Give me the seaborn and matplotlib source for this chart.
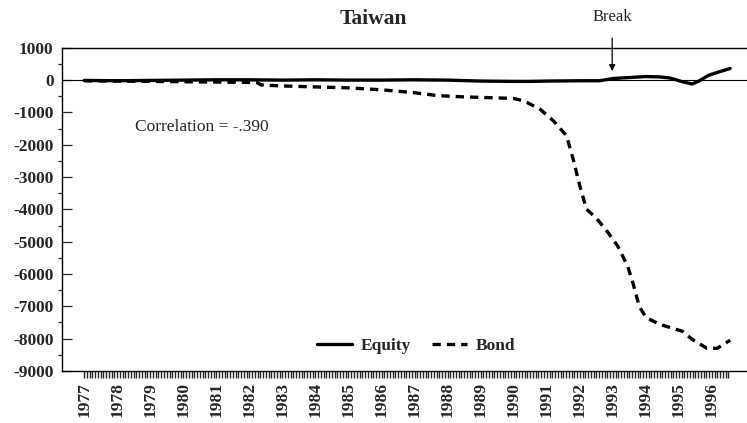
import numpy as np
import pandas as pd
import matplotlib
matplotlib.use("Agg")
import matplotlib.pyplot as plt
from matplotlib.ticker import MultipleLocator, FixedLocator
import seaborn as sns

# values (decimal years, index level)
equity_t = [1977.0, 1978.0, 1979.0, 1980.0, 1981.0, 1982.0, 1983.0, 1984.0, 1985.0, 1986.0,
            1987.0, 1988.0, 1989.0, 1990.0, 1990.5, 1991.0, 1992.0, 1992.6, 1993.0, 1993.5,
            1994.0, 1994.4, 1994.7, 1994.95, 1995.1, 1995.4, 1995.6, 1995.9, 1996.2, 1996.55]
equity_v = [-10, -20, -10, 0, 10, 10, 0, 10, 0, 0,
            10, 0, -30, -40, -40, -30, -20, -20, 50, 80,
            110, 100, 70, 0, -50, -120, -30, 150, 250, 360]

bond_t = [1977.0, 1978.0, 1979.0, 1980.0, 1981.0, 1982.0, 1982.25, 1982.35, 1983.0, 1984.0,
          1985.0, 1986.0, 1987.0, 1987.7, 1988.5, 1989.5, 1990.0, 1990.3, 1990.8, 1991.2,
          1991.6, 1991.8, 1992.0, 1992.2, 1992.5, 1992.85, 1993.15, 1993.45, 1993.6, 1993.8,
          1994.0, 1994.4, 1995.1, 1995.4, 1995.85, 1996.15, 1996.55]
bond_v = [-20, -30, -40, -50, -60, -70, -80, -150, -180, -210,
          -240, -300, -390, -480, -520, -550, -570, -640, -900, -1260,
          -1720, -2450, -3270, -3990, -4270, -4710, -5140, -5760, -6250, -7000,
          -7340, -7550, -7770, -8020, -8300, -8300, -8050]

years = list(range(1977, 1997))
title = "Taiwan"
corr_text = "Correlation = -.390"
break_year = 1992.98

sns.set_style("ticks")
plt.rcParams["font.family"] = ["Liberation Serif", "DejaVu Serif"]
plt.rcParams["axes.unicode_minus"] = False

fig = plt.figure(figsize=(7.47, 4.23), dpi=100)
ax = fig.add_axes([0.083, 0.123, 0.917, 0.764])

ax.axhline(0, color="black", lw=0.8, zorder=1)
sns.lineplot(x=equity_t, y=equity_v, ax=ax, color="black", lw=2.4, label="Equity")
sns.lineplot(x=bond_t, y=bond_v, ax=ax, color="black", lw=2.4, label="Bond")
ax.lines[-1].set_dashes((2.5, 1.8))

ax.set_xlim(1976.33, 1997.06)
ax.set_ylim(-9000, 1000)

ax.yaxis.set_major_locator(MultipleLocator(1000))
ax.yaxis.set_minor_locator(MultipleLocator(500))
ax.tick_params(axis="y", which="major", direction="in", length=7, width=0.9, labelsize=12.5, pad=6)
ax.tick_params(axis="y", which="minor", direction="out", length=3, width=0.9)
for lab in ax.get_yticklabels():
    lab.set_fontweight("bold")

ax.xaxis.set_major_locator(FixedLocator(years))
ax.xaxis.set_minor_locator(FixedLocator(np.arange(1977, 1996.55, 1 / 12)))
ax.set_xticklabels([str(y) for y in years], rotation=90, fontsize=12.5, fontweight="bold")
ax.tick_params(axis="x", which="both", direction="out", length=5, width=1.0, pad=3)

ax.spines["right"].set_visible(False)
for s in ["left", "bottom", "top"]:
    ax.spines[s].set_linewidth(1.0)
    ax.spines[s].set_color("black")

ax.set_xlabel("")
ax.set_ylabel("")

ax.legend(loc="center", bbox_to_anchor=(0.517, 0.077), ncol=2, frameon=False,
          prop={"weight": "bold", "size": 12.5}, handlelength=2.0, columnspacing=1.2,
          handletextpad=0.5)

ax.text(1978.54, -1455, corr_text, fontsize=12.5, ha="left", va="center")
ax.annotate("Break", xy=(break_year, 280), xytext=(break_year, 1950),
            ha="center", va="center", fontsize=12, annotation_clip=False,
            arrowprops=dict(arrowstyle="-|>", color="black", lw=0.9, shrinkA=7, shrinkB=0,
                            mutation_scale=9))

fig.text(0.5, 0.955, title, ha="center", va="center", fontsize=15.5, fontweight="bold")

fig.savefig("out.png", dpi=100)
